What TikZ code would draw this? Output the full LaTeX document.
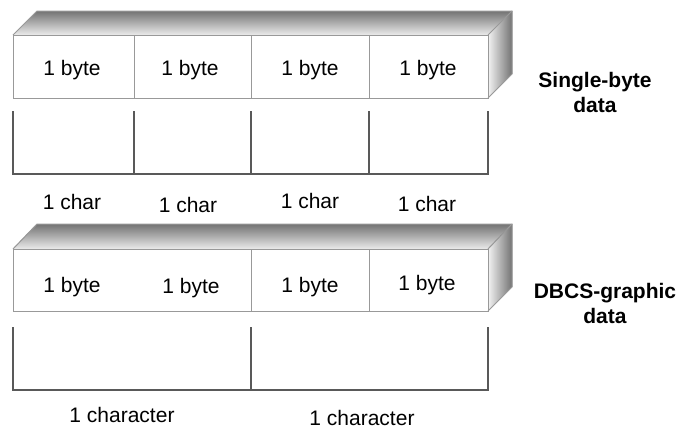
\documentclass[tikz,border=0pt]{standalone}
\usepackage{fontspec}
\setmainfont{Liberation Sans}
\usetikzlibrary{positioning}

\tikzset{
  boxline/.style={draw=black!40, line width=0.5pt},
  bracket/.style={draw=black!65, line width=0.8pt},
  topface/.style={top color=black!55, bottom color=black!8},
  sideface/.style={left color=black!5, right color=black!55},
  lbl/.style={font=\fontsize{10.5}{12}\selectfont},
  tag/.style={font=\fontsize{10.5}{12.5}\selectfont\bfseries, align=center},
}

\begin{document}
\begin{tikzpicture}[x=0.5pt, y=-0.5pt]
  \useasboundingbox (0,0) rectangle (682,428);

  % Single-byte data
  \fill[topface] (13,35) -- (37,11) -- (512,11) -- (488,35) -- cycle;
  \fill[sideface] (488,35) -- (512,11) -- (512,74) -- (488,98) -- cycle;
  \draw[boxline] (13,35) rectangle (488,98);
  \draw[boxline] (13,35) -- (37,11) -- (512,11) -- (512,74) -- (488,98);
  \draw[boxline] (488,35) -- (512,11);
  \foreach \x in {134,251,369}
    \draw[boxline] (\x,35) -- (\x,98);
  \draw[bracket] (13,111) -- (13,174) -- (488,174) -- (488,111);
  \foreach \x in {134,251,369}
    \draw[bracket] (\x,111) -- (\x,174);
  \foreach \x/\i in {72/1,190/2,310/3,428/4}
    \node[lbl] (sbyte\i) at (\x,70) {1 byte};
  \foreach \x/\y/\i in {72/202/1,188/205/2,310/201/3,427/204/4}
    \node[lbl] (schar\i) at (\x,\y) {1 char};
  \node[tag] (single) at (595,92) {Single-byte\\data};

  % DBCS-graphic data
  \fill[topface] (13,249) -- (37,224) -- (512,224) -- (488,249) -- cycle;
  \fill[sideface] (488,249) -- (512,224) -- (512,287) -- (488,311) -- cycle;
  \draw[boxline] (13,249) rectangle (488,311);
  \draw[boxline] (13,249) -- (37,224) -- (512,224) -- (512,287) -- (488,311);
  \draw[boxline] (488,249) -- (512,224);
  \foreach \x in {251,369}
    \draw[boxline] (\x,249) -- (\x,311);
  \draw[bracket] (13,327) -- (13,390) -- (488,390) -- (488,327);
  \draw[bracket] (251,327) -- (251,390);
  \foreach \x/\y/\i in {72/287/1,191/288/2,310/287/3,427/285/4}
    \node[lbl] (dbyte\i) at (\x,\y) {1 byte};
  \node[lbl] (dchar1) at (122,415) {1 character};
  \node[lbl] (dchar2) at (362,418) {1 character};
  \node[tag] (dbcs) at (605,303) {DBCS-graphic\\data};
\end{tikzpicture}
\end{document}
